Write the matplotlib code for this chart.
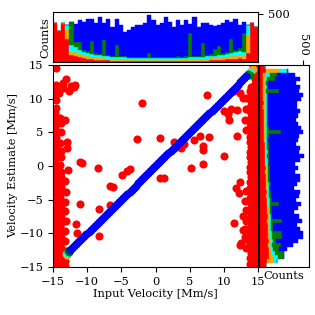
"""
Velocity estimate vs input velocity with stacked marginal histograms.
"""

import numpy as np
import matplotlib
matplotlib.use("Agg")
import matplotlib.pyplot as plt

plt.rcParams["font.family"] = ["DejaVu Serif"]
plt.rcParams["font.size"] = 8.2
plt.rcParams["axes.unicode_minus"] = True

CLASS_COLORS = ["#ff0000", "#ffa500", "#00ffff", "#008000", "#0000ff"]

# --- scatter: red outliers (left band, right band, interior) ---
red_left_x = [-14.7, -14.5, -14.6, -14.7, -14.5, -14.6, -14.7, -14.5, -14.6, -14.7, -14.5, -14.6,
              -14.7, -14.5, -14.6, -14.7, -14.5, -14.6, -14.7, -14.5, -14.6, -14.7, -14.5, -14.6,
              -14.7, -14.5, -14.6, -14.7, -14.5, -14.6, -14.7, -14.5, -14.6, -14.7, -14.5, -14.6,
              -13.9, -14.0, -13.8, -13.9, -14.0, -13.8, -13.9, -14.0, -13.8, -13.9, -14.0, -13.8, -13.9,
              -14.0, -13.8, -13.9, -14.0, -13.8, -13.9, -14.0, -13.8, -13.9, -14.0, -13.8, -13.9, -14.0,
              -13.2, -13.3, -13.1, -13.2, -13.3, -13.1, -13.2, -13.3, -13.1, -13.2, -13.0,
              -13.1, -12.7, -12.4, -12.0, -11.8, -13.5, -13.6, -14.6, -14.1, -13.25, -13.0, -12.75]
red_left_y = [-14.8, -14.0, -13.3, -12.5, -11.8, -11.0, -10.3, -9.5, -8.8, -8.0, -7.3, -6.5,
              -5.8, -5.0, -4.3, -3.5, -2.8, -2.0, -1.3, -0.5, 0.3, 1.0, 1.8, 2.5,
              3.3, 4.1, 4.8, 5.6, 6.3, 7.1, 7.8, 8.6, 9.8, 10.6, 11.3, 12.1,
              -14.5, -13.7, -12.9, -12.2, -11.4, -10.6, -9.9, -9.1, -8.4, -7.6, -6.9, -6.1, -5.4,
              -4.6, -3.9, -3.1, -2.4, -1.6, -0.9, 0.2, 1.4, 2.2, 3.4, 5.1, 6.4, 7.2,
              -14.9, -14.1, -12.6, -11.1, -9.6, -8.2, -6.7, -5.3, -3.8, -2.3, 2.6,
              12.9, 11.2, 11.9, 11.8, 12.0, 11.6, 12.3, 14.6, 10.9, 6.8, 3.6, -0.6]

red_right_x = [14.6, 14.5, 14.7, 14.6, 14.5, 14.7, 14.6, 14.5, 14.7, 14.6, 14.5, 14.7, 14.6, 14.5,
               14.7, 14.6, 14.5, 14.7, 14.6, 14.5, 14.7, 14.6, 14.5, 14.7, 14.6, 14.5, 14.7, 14.6,
               14.5, 14.7, 14.6, 14.5, 14.7, 14.6, 14.5, 14.7, 14.6, 14.5, 14.7, 14.6,
               13.9, 13.8, 14.0, 13.9, 13.8, 14.0, 13.9, 13.8, 14.0, 13.9, 13.8, 14.0, 13.9,
               13.8, 14.0, 13.9, 13.8, 14.0, 13.9, 13.8, 14.0, 13.9, 13.8, 14.0, 13.9, 13.8,
               14.0, 13.9, 13.8, 14.0, 13.9, 13.8, 14.0, 13.9, 13.8, 14.0, 14.2,
               13.2, 13.3, 13.1, 13.2, 13.3, 13.1, 13.2, 13.3, 13.1, 13.2, 13.3]
red_right_y = [-14.8, -14.1, -13.3, -12.6, -11.8, -11.1, -10.3, -9.6, -8.8, -8.1, -7.3, -6.6, -5.8, -5.1,
               -4.3, -3.6, -2.8, -2.1, -1.3, -0.6, 0.2, 0.9, 1.7, 2.4, 3.2, 3.9, 4.7, 5.4,
               6.2, 6.9, 7.7, 8.4, 9.2, 9.9, 10.7, 11.4, 12.2, 12.9, 13.7, 14.5,
               -14.5, -13.7, -12.9, -12.2, -11.4, -10.7, -9.9, -9.2, -8.4, -7.7, -6.9, -6.2, -5.4,
               -4.7, -3.9, -3.2, -2.4, -1.7, -0.9, -0.2, 0.6, 1.3, 2.1, 2.8, 3.6, 4.3,
               5.1, 5.8, 6.6, 7.3, 8.1, 8.8, 9.6, 10.3, 11.1, 11.8, 14.8,
               -12.2, -10.8, -9.3, -8.1, -6.6, -5.2, -3.7, 5.3, 6.9, 8.5, 10.1]

red_mid_x = [-11.1, -10.8, -11.0, -11.65, -11.55, -8.35, -8.2, -8.2, -6.65, -6.15, -6.65, -4.9, -4.2,
             -3.8, -2.7, -2.05, 0.65, 0.65, 1.25, 2.7, 2.95, 3.7, 4.1, 5.15, 5.65, 6.55, 6.9, 7.0,
             6.9, 7.6, 7.85, 9.95, 10.0, 10.55, 10.7, 11.05, 12.3, 11.55, 11.95, 11.8, 12.15,
             12.55, 11.55, 12.8, 12.3, 12.85, 11.9, 12.85, 13.1, 12.4]
red_mid_y = [0.6, 0.45, -5.6, -8.55, -9.95, -0.35, -10.4, -6.4, -3.0, -3.15, -5.75, -1.35, -0.7,
             -0.5, 4.05, 9.3, 4.2, -1.85, -1.85, 3.55, 2.8, 2.7, 3.3, -0.35, 3.9, 4.4, 2.9, 2.35,
             0.35, 10.5, 4.3, 1.5, 8.2, 7.75, 6.85, 8.45, 10.8, 11.15, 4.4, -3.3, -4.05,
             -11.4, -8.45, -9.45, -2.35, 10.05, 8.3, -7.5, -10.5, -11.7]

# --- scatter: diagonal classes (estimate equals input) ---
orange_x = [-13.1, -13.0, 14.3, 14.0]
orange_y = [-13.0, -13.2, 14.4, 14.1]
cyan_x = [-12.9, 13.9]
cyan_y = [-12.9, 13.9]
green_x = [-12.8, -12.6, 13.6, 13.8]
green_y = [-12.6, -12.7, 13.7, 13.5]
blue_v = [-12.5, -12.2, -11.9, -11.6, -11.3, -11.0, -10.7, -10.4, -10.1, -9.8, -9.5, -9.2, -8.9,
          -8.6, -8.3, -8.0, -7.7, -7.4, -7.1, -6.8, -6.5, -6.2, -5.9, -5.6, -5.3, -5.0, -4.7,
          -4.4, -4.1, -3.8, -3.5, -3.2, -2.9, -2.6, -2.3, -2.0, -1.7, -1.4, -1.1, -0.8, -0.5,
          -0.2, 0.1, 0.4, 0.7, 1.0, 1.3, 1.6, 1.9, 2.2, 2.5, 2.8, 3.1, 3.4, 3.7, 4.0, 4.3,
          4.6, 4.9, 5.2, 5.5, 5.8, 6.1, 6.4, 6.7, 7.0, 7.3, 7.6, 7.9, 8.2, 8.5, 8.8, 9.1,
          9.4, 9.7, 10.0, 10.3, 10.6, 10.9, 11.2, 11.5, 11.8, 12.1, 12.4, 12.7, 13.0, 13.3]

# --- top histogram (input velocity), 50 bins on [-15, 15] ---
top_red = [410, 325, 400, 245, 73, 70, 55, 45, 40, 35, 30, 28, 25, 22, 20, 18, 17, 16, 15, 14,
           14, 13, 13, 12, 12, 12, 12, 13, 13, 14, 14, 15, 15, 16, 17, 18, 19, 20, 22, 24,
           26, 28, 31, 35, 40, 45, 35, 95, 410, 370]
top_orange = [0, 0, 8, 105, 34, 34, 30, 28, 26, 24, 22, 21, 20, 19, 18, 17, 17, 16, 16, 15,
              15, 15, 14, 14, 14, 14, 14, 15, 15, 15, 16, 16, 17, 17, 18, 18, 19, 20, 21, 22,
              23, 25, 27, 29, 32, 36, 35, 190, 0, 0]
top_cyan = [0, 0, 0, 35, 70, 60, 45, 38, 34, 30, 28, 26, 25, 24, 22, 21, 20, 20, 19, 18,
            18, 17, 17, 17, 16, 16, 17, 17, 17, 18, 18, 19, 19, 20, 20, 21, 22, 23, 24, 25,
            26, 28, 30, 32, 35, 38, 34, 104, 0, 0]
top_green = [0, 0, 0, 0, 243, 50, 81, 20, 18, 129, 15, 14, 159, 12, 12, 127, 10, 11, 10, 12,
             14, 10, 11, 54, 10, 12, 11, 10, 13, 12, 14, 11, 12, 252, 14, 13, 144, 15, 16, 70,
             95, 18, 17, 151, 22, 30, 200, 0, 0, 0]
top_blue = [0, 0, 0, 0, 0, 181, 226, 289, 326, 226, 307, 376, 180, 367, 295, 261, 321, 252, 273, 302,
            324, 330, 347, 392, 385, 331, 348, 417, 362, 308, 375, 324, 374, 90, 403, 297, 205, 324, 302, 233,
            215, 303, 332, 173, 315, 236, 110, 0, 0, 0]

# --- right histogram (velocity estimate), 50 bins on [-15, 15], bottom to top ---
right_red = [75, 95, 110, 118, 115, 108, 112, 104, 106, 100, 101, 96, 97, 92, 94, 88, 90, 84, 86, 80,
             82, 77, 78, 73, 75, 70, 71, 66, 68, 63, 65, 60, 62, 58, 59, 55, 56, 53, 54, 51,
             52, 49, 50, 47, 48, 45, 46, 50, 85, 70]
right_orange = [0, 80, 60, 30, 22, 20, 20, 19, 19, 18, 18, 17, 17, 17, 16, 16, 16, 15, 15, 15,
                15, 14, 14, 14, 14, 14, 14, 14, 14, 14, 14, 14, 15, 15, 15, 15, 15, 16, 16, 16,
                16, 17, 17, 17, 18, 18, 20, 30, 150, 0]
right_cyan = [0, 25, 50, 40, 28, 25, 24, 23, 22, 21, 21, 20, 20, 19, 19, 18, 18, 18, 17, 17,
              17, 17, 16, 16, 16, 16, 16, 16, 16, 17, 17, 17, 17, 17, 18, 18, 18, 18, 19, 19,
              19, 20, 20, 21, 21, 22, 24, 40, 90, 0]
right_green = [0, 0, 70, 100, 60, 100, 40, 120, 110, 22, 20, 130, 18, 20, 17, 110, 19, 18, 20, 17,
               18, 16, 19, 18, 17, 18, 16, 17, 19, 18, 17, 16, 18, 160, 17, 18, 16, 18, 17, 16,
               18, 17, 19, 140, 18, 20, 90, 85, 10, 0]
right_blue = [0, 0, 0, 0, 90, 130, 248, 234, 249, 309, 270, 227, 308, 252, 299, 248, 277, 320, 332, 271,
              298, 341, 343, 294, 318, 287, 353, 397, 338, 358, 307, 333, 348, 250, 371, 344, 315, 340, 364, 333,
              325, 377, 394, 230, 360, 315, 290, 205, 0, 0]

ticks = [-15, -10, -5, 0, 5, 10, 15]
edges = np.linspace(-15, 15, 51)

fig = plt.figure(figsize=(3.15, 3.15), dpi=100)
ax = fig.add_axes([0.1683, 0.1524, 0.6508, 0.6413])
ax_top = fig.add_axes([0.1683, 0.8016, 0.6508, 0.1603])
ax_right = fig.add_axes([0.8222, 0.1524, 0.1587, 0.6413])

# main scatter
ms = 34
ax.scatter(red_left_x + red_right_x + red_mid_x, red_left_y + red_right_y + red_mid_y,
           s=ms, color=CLASS_COLORS[0], lw=0)
ax.scatter(orange_x, orange_y, s=ms, color=CLASS_COLORS[1], lw=0)
ax.scatter(cyan_x, cyan_y, s=ms, color=CLASS_COLORS[2], lw=0)
ax.scatter(green_x, green_y, s=ms, color=CLASS_COLORS[3], lw=0)
ax.scatter(blue_v, blue_v, s=ms, color=CLASS_COLORS[4], lw=0)
ax.set_xlim(-15, 15)
ax.set_ylim(-15, 15)
ax.set_xticks(ticks)
ax.set_yticks(ticks)
ax.set_xlabel("Input Velocity [Mm/s]", labelpad=2)
ax.set_ylabel("Velocity Estimate [Mm/s]", labelpad=1)

# stacked marginal histograms
top_stack = [top_red, top_orange, top_cyan, top_green, top_blue]
right_stack = [right_red, right_orange, right_cyan, right_green, right_blue]
bottom = np.zeros(50)
for counts, col in zip(top_stack, CLASS_COLORS):
    ax_top.bar(edges[:-1], counts, width=0.6, bottom=bottom, align="edge",
               color=col, edgecolor=col, lw=0.3)
    bottom += np.array(counts)
left = np.zeros(50)
for counts, col in zip(right_stack, CLASS_COLORS):
    ax_right.barh(edges[:-1], counts, height=0.6, left=left, align="edge",
                  color=col, edgecolor=col, lw=0.3)
    left += np.array(counts)

ax_top.set_xlim(-15, 15)
ax_top.set_ylim(0, 520)
ax_top.set_xticks([])
ax_top.yaxis.tick_right()
ax_top.set_yticks([500])
ax_top.set_ylabel("Counts", labelpad=2)

ax_right.set_ylim(-15, 15)
ax_right.set_xlim(0, 570)
ax_right.set_yticks([])
ax_right.xaxis.tick_top()
ax_right.set_xticks([500])
ax_right.set_xticklabels(["500"], rotation=-90)
ax_right.xaxis.set_label_position("bottom")
ax_right.set_xlabel("Counts", labelpad=3)

fig.savefig("out.png", dpi=100)
